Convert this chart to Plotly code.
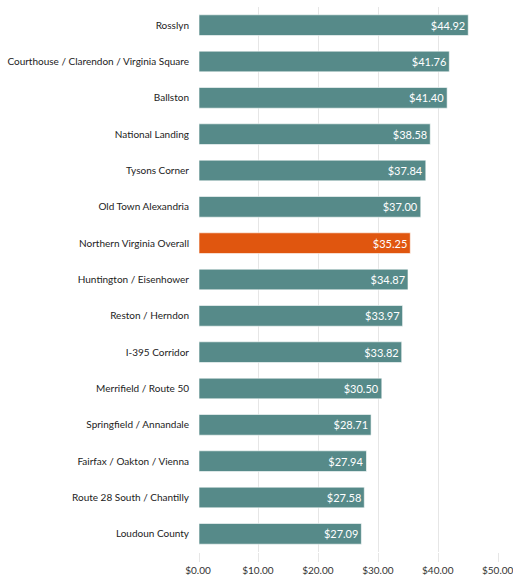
import plotly.graph_objects as go

categories = ["Rosslyn", "Courthouse / Clarendon / Virginia Square", "Ballston",
              "National Landing", "Tysons Corner", "Old Town Alexandria",
              "Northern Virginia Overall", "Huntington / Eisenhower", "Reston / Herndon",
              "I-395 Corridor", "Merrifield / Route 50", "Springfield / Annandale",
              "Fairfax / Oakton / Vienna", "Route 28 South / Chantilly", "Loudoun County"]
values = [44.92, 41.76, 41.40, 38.58, 37.84, 37.00, 35.25, 34.87, 33.97, 33.82,
          30.50, 28.71, 27.94, 27.58, 27.09]
highlight = "Northern Virginia Overall"
tick_vals = [0, 10, 20, 30, 40, 50]
tick_text = ["$0.00", "$10.00", "$20.00", "$30.00", "$40.00", "$50.00"]

colors = ["#e0560f" if c == highlight else "#568a89" for c in categories]

fig = go.Figure(go.Bar(
    x=values, y=categories, orientation="h",
    marker=dict(color=colors, line=dict(color="rgba(255,255,255,0.6)", width=1)),
    text=[f"${v:.2f}" for v in values], textposition="inside",
    insidetextanchor="end", textangle=0,
    textfont=dict(color="white", size=11, family="Lato"),
    hoverinfo="skip", cliponaxis=False,
))

fig.update_layout(
    width=513, height=575,
    margin=dict(l=199, r=14, t=7, b=23, autoexpand=False),
    plot_bgcolor="white", paper_bgcolor="white",
    bargap=0.43, showlegend=False,
    font=dict(family="Lato", size=10, color="#333333"),
    uniformtext=dict(minsize=11, mode="show"),
)
fig.update_xaxes(range=[0, 50.05], tickvals=tick_vals, ticktext=tick_text,
                 showgrid=True, gridcolor="#e6e6e6", gridwidth=1,
                 zeroline=False, showline=False, ticks="outside", ticklen=9,
                 tickcolor="#e6e6e6", tickwidth=1, automargin=False,
                 ticklabeloverflow="allow", ticklabelshift=-1,
                 tickfont=dict(size=10, color="#333333"))
fig.update_yaxes(categoryorder="array", categoryarray=categories[::-1],
                 showgrid=False, ticks="", ticklabelstandoff=9, automargin=False,
                 tickfont=dict(size=10, color="#222222"))

fig.write_html("out.html", config={"displayModeBar": False},
               post_script="document.body.style.margin='0';")
